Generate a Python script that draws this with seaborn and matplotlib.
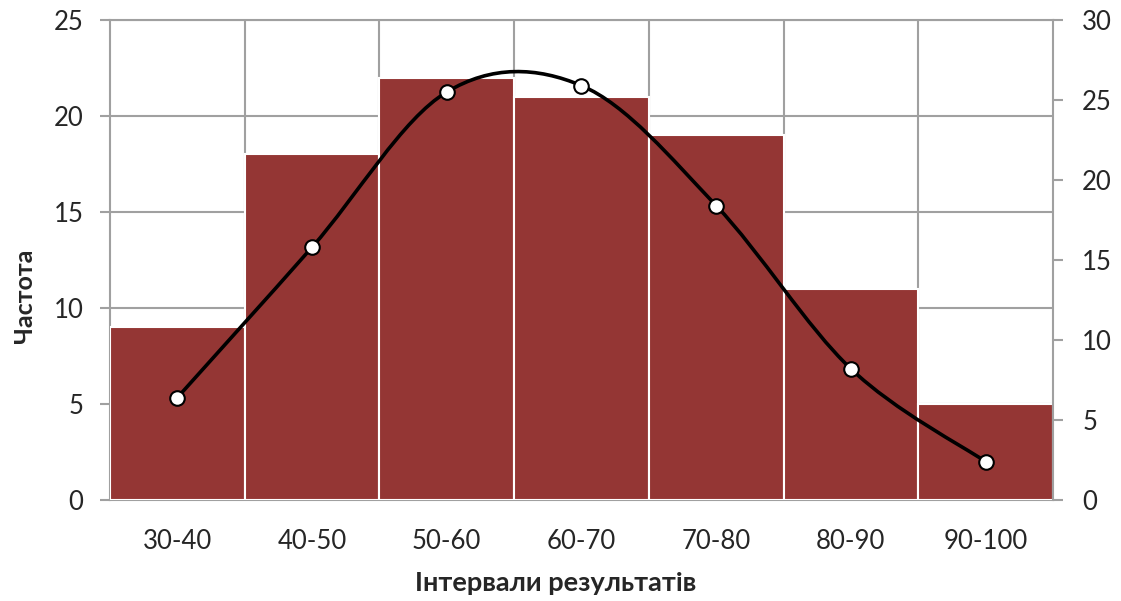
import matplotlib
matplotlib.use('Agg')
import matplotlib.pyplot as plt
from matplotlib.path import Path
from matplotlib.patches import PathPatch
import seaborn as sns
import numpy as np
import pandas as pd

# дані
intervals = ['30-40', '40-50', '50-60', '60-70', '70-80', '80-90', '90-100']
freq = [9, 18, 22, 21, 19, 11, 5]           # стовпці, ліва вісь
curve = [6.4, 15.8, 25.5, 25.9, 18.4, 8.2, 2.4]  # лінія, права вісь

sns.set_theme(style='white')
plt.rcParams['font.family'] = ['Lato', 'Open Sans', 'DejaVu Sans']

GRAY = '#a0a0a0'
BAR = '#943634'

fig = plt.figure(figsize=(11.21, 6.01), dpi=100)
ax = fig.add_axes([0.0981, 0.168, 0.8412, 0.7987])

df = pd.DataFrame({'interval': intervals, 'freq': freq})
sns.barplot(data=df, x='interval', y='freq', ax=ax, color=BAR, width=1.0,
            edgecolor='white', linewidth=1.5, saturation=1, zorder=3)

ax.set_xlim(-0.5, len(intervals) - 0.5)
ax.set_ylim(0, 25)
ax.set_yticks(range(0, 26, 5))
ax.set_xticks(np.arange(0.5, len(intervals) - 0.5, 1), minor=True)
ax.grid(True, which='major', axis='y', color=GRAY, linewidth=1.5, zorder=0)
ax.grid(True, which='minor', axis='x', color=GRAY, linewidth=1.5, zorder=0)
ax.set_axisbelow(True)

for s in ['left', 'bottom', 'top']:
    ax.spines[s].set_color(GRAY)
    ax.spines[s].set_linewidth(1.5)
ax.spines['right'].set_visible(False)

ax.tick_params(axis='y', which='major', direction='out', length=7, width=1.5,
               color=GRAY, pad=12, labelsize=18.5, left=True)
ax.tick_params(axis='x', which='both', length=0, pad=21, labelsize=18.5)

ax.set_xlabel('Інтервали результатів', fontsize=19.5, fontweight='bold')
ax.set_ylabel('Частота', fontsize=18, fontweight='bold')
ax.xaxis.set_label_coords(0.473, -0.148)
ax.yaxis.set_label_coords(-0.078, 0.425)

# права вісь
ax2 = ax.twinx()
ax2.set_ylim(0, 30)
ax2.set_yticks(range(0, 31, 5))
ax2.grid(False)
ax2.patch.set_visible(False)
for s in ['left', 'bottom', 'top']:
    ax2.spines[s].set_visible(False)
ax2.spines['right'].set_color(GRAY)
ax2.spines['right'].set_linewidth(1.5)
ax2.tick_params(axis='y', direction='out', length=7, width=1.5, color=GRAY,
                pad=14, labelsize=18.5, right=True)

# згладжена лінія (кубічні Безьє між точками, як у Excel)
xs = np.arange(len(curve), dtype=float)
ys = np.array(curve, dtype=float)
verts = [(xs[0], ys[0])]
codes = [Path.MOVETO]
n = len(xs)
for i in range(n - 1):
    p0 = np.array([xs[max(i - 1, 0)], ys[max(i - 1, 0)]])
    p1 = np.array([xs[i], ys[i]])
    p2 = np.array([xs[i + 1], ys[i + 1]])
    p3 = np.array([xs[min(i + 2, n - 1)], ys[min(i + 2, n - 1)]])
    c1 = p1 + (p2 - p0) / 6.0
    c2 = p2 - (p3 - p1) / 6.0
    verts += [tuple(c1), tuple(c2), tuple(p2)]
    codes += [Path.CURVE4] * 3
ax2.add_patch(PathPatch(Path(verts, codes), facecolor='none', edgecolor='black',
                        linewidth=2.6, zorder=4, capstyle='round'))

sns.scatterplot(x=xs, y=ys, ax=ax2, s=110, color='white', edgecolor='black',
                linewidth=1.5, zorder=5, legend=False)

fig.savefig('out.png', dpi=100)
